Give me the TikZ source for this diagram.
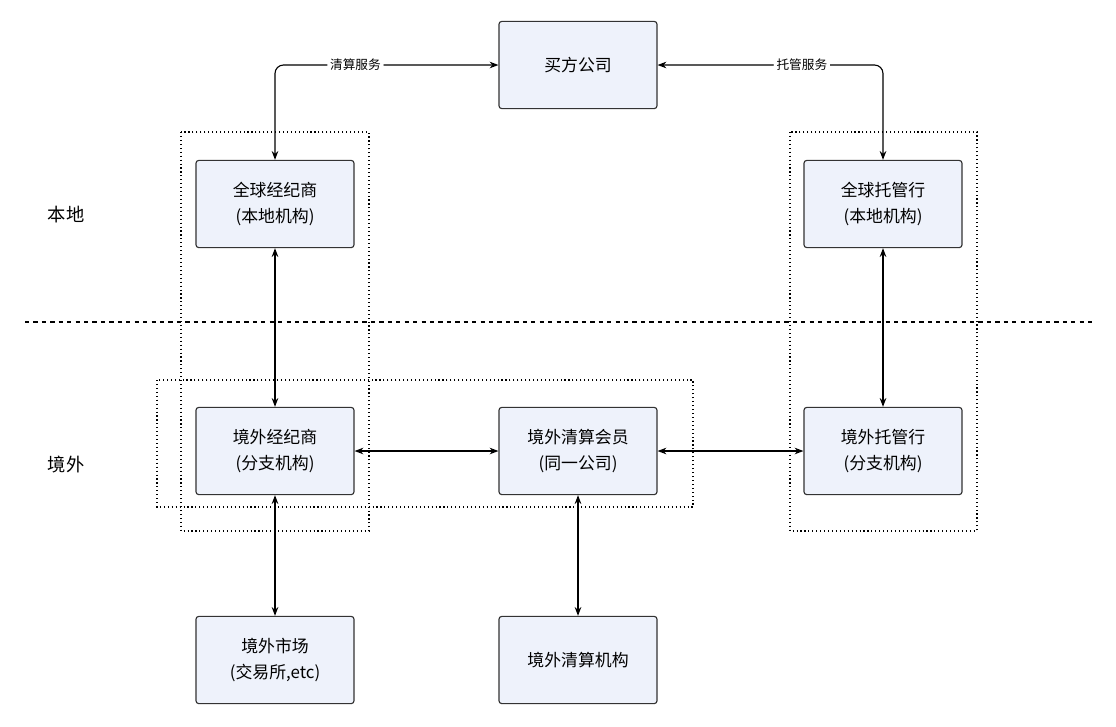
\documentclass[tikz,border=0pt]{standalone}
\usepackage{fontspec}
\setmainfont{Noto Sans CJK SC}
\usetikzlibrary{arrows.meta, positioning}
\definecolor{boxfill}{HTML}{EEF2FB}
\definecolor{boxline}{HTML}{333333}
\tikzset{
    entity/.style={
        rectangle,
        draw=boxline,
        thick,
        rounded corners=2pt,
        minimum width=3.95cm,
        minimum height=2.18cm,
        fill=boxfill,
        align=center,
        font=\fontsize{12}{19}\selectfont
    },
    region/.style={
        draw=black,
        dotted,
        thick
    },
    link/.style={
        draw=black,
        thick,
        {Stealth[length=2.2mm]}-{Stealth[length=2.2mm]}
    },
    service/.style={
        font=\fontsize{9}{11}\selectfont,
        fill=white,
        inner sep=2pt
    },
    zone/.style={
        font=\fontsize{13}{15}\selectfont
    }
}

\begin{document}
\begin{tikzpicture}[x=0.025cm, y=-0.025cm]
\useasboundingbox (0,0) rectangle (1116,726);

% Regions
\draw[region] (181,132) rectangle (369,531);
\draw[region] (157,380) rectangle (693,507);
\draw[region] (790,132) rectangle (977,531);
\draw[black, thick, dash pattern=on 3pt off 3pt] (25,322) -- (1095,322);

\node[zone] (local) at (66,215) {本地};
\node[zone] (overseas) at (66,465) {境外};

% Entities
\node[entity] (buyer) at (578,65) {买方公司};
\node[entity] (gbroker) at (275,204) {全球经纪商\\(本地机构)};
\node[entity] (gcustody) at (883,204) {全球托管行\\(本地机构)};
\node[entity] (obroker) at (275,451) {境外经纪商\\(分支机构)};
\node[entity] (member) at (578,451) {境外清算会员\\(同一公司)};
\node[entity] (ocustody) at (883,451) {境外托管行\\(分支机构)};
\node[entity] (market) at (275,660) {境外市场\\(交易所,etc)};
\node[entity] (ccp) at (578,660) {境外清算机构};

% Connections
\draw[link, rounded corners=6pt] (gbroker.north) |- node[service, pos=0.68] {清算服务} (buyer.west);
\draw[link, rounded corners=6pt] (gcustody.north) |- node[service, pos=0.68] {托管服务} (buyer.east);
\draw[link] (gbroker) -- (obroker);
\draw[link] (gcustody) -- (ocustody);
\draw[link] (obroker) -- (member);
\draw[link] (member) -- (ocustody);
\draw[link] (obroker) -- (market);
\draw[link] (member) -- (ccp);

\end{tikzpicture}
\end{document}
